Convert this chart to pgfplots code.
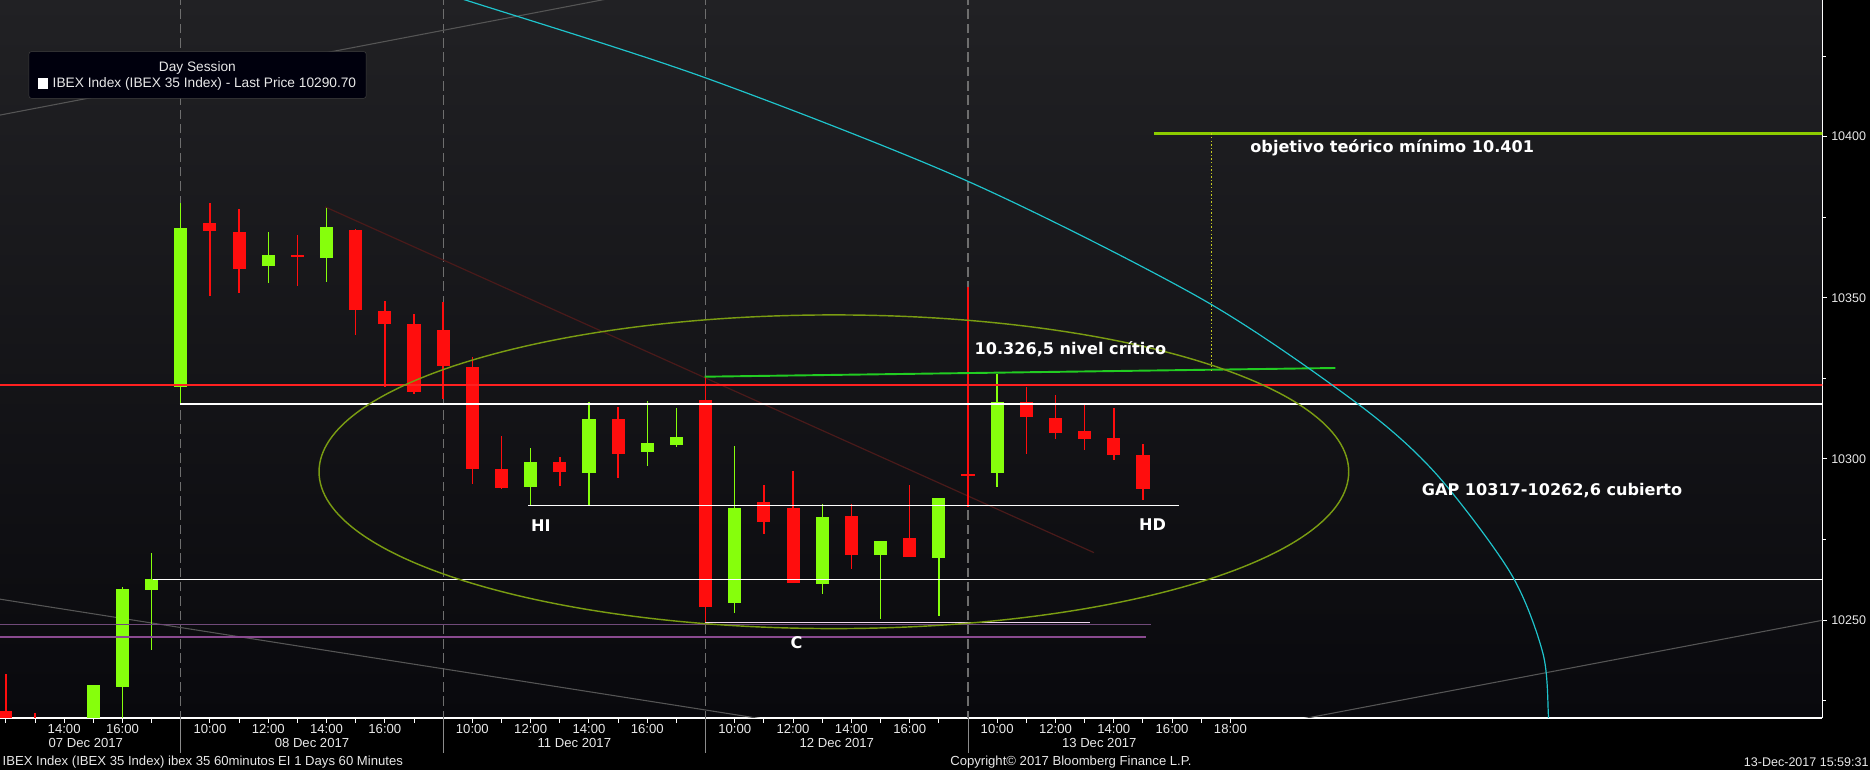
\documentclass[border=0pt]{standalone}
\usepackage{pgfplots}
\pgfplotsset{compat=1.18}
\usepackage{pgfplotstable}
\usepackage{fontspec}
\setmainfont{Liberation Sans}
\newfontfamily\annfont{DejaVu Sans}

\definecolor{bgtop}{HTML}{212124}
\definecolor{bgbot}{HTML}{09090D}
\definecolor{upc}{HTML}{86FF0C}
\definecolor{dnc}{HTML}{FF0D0D}
\definecolor{sepc}{HTML}{6E6E6E}
\definecolor{grayln}{HTML}{555555}
\definecolor{darkred}{HTML}{4A1A1A}
\definecolor{olivec}{HTML}{7A9C12}
\definecolor{cyanc}{HTML}{1FC4CC}
\definecolor{critc}{HTML}{22CC22}
\definecolor{topgreen}{HTML}{8CCC00}
\definecolor{dottc}{HTML}{C8CC22}
\definecolor{purpa}{HTML}{704A7A}
\definecolor{purpb}{HTML}{8A4A90}
\definecolor{clinec}{HTML}{EED6EE}
\definecolor{labelc}{HTML}{E8E8E8}
\definecolor{levred}{HTML}{FF2020}

% hourly candles, x = hour slot (0 = 07 Dec 12:00, 9 slots per day)
\pgfplotstableread{
x  o        h        l        c
3  10212.0  10229.9  10205.0  10229.9
4  10229.4  10260.2  10218.0  10259.6
5  10259.4  10270.8  10240.9  10262.6
6  10322.5  10379.6  10317.0  10371.7
9  10359.9  10370.5  10354.7  10363.3
11 10362.4  10377.9  10355.1  10371.9
18 10291.4  10303.5  10285.5  10299.1
20 10295.7  10317.6  10285.6  10312.4
22 10302.2  10317.9  10297.7  10304.9
23 10304.2  10315.8  10303.8  10306.9
25 10255.4  10304.2  10252.4  10284.9
28 10261.1  10286.0  10258.3  10282.0
30 10270.3  10274.6  10250.5  10274.6
32 10269.4  10288.1  10251.4  10288.1
34 10295.7  10326.5  10291.4  10317.9
}\upcandles

\pgfplotstableread{
x  o        h        l        c
0  10221.8  10233.2  10212.0  10216.0
1  10218.0  10221.3  10210.0  10214.0
7  10373.2  10379.6  10350.6  10370.6
8  10370.5  10377.5  10351.6  10359.1
10 10363.3  10369.5  10353.5  10362.9
12 10371.1  10371.4  10338.4  10346.2
13 10346.0  10349.1  10322.5  10342.0
14 10341.9  10345.0  10320.3  10320.8
15 10340.0  10348.7  10318.7  10328.9
16 10328.6  10331.5  10292.3  10296.7
17 10296.9  10307.4  10290.9  10290.9
19 10299.1  10300.7  10291.7  10296.0
21 10312.4  10316.2  10294.2  10301.6
24 10318.3  10325.3  10248.5  10254.2
26 10286.6  10291.9  10276.8  10280.5
27 10284.9  10296.2  10261.4  10261.4
29 10282.3  10286.0  10266.0  10270.3
31 10275.5  10291.9  10269.7  10269.7
33 10295.4  10353.3  10285.2  10295.0
35 10317.9  10322.4  10301.6  10313.1
36 10312.8  10319.8  10306.3  10308.1
37 10308.7  10317.3  10302.9  10306.3
38 10306.6  10315.8  10299.8  10301.3
39 10301.2  10304.8  10287.5  10290.7
}\dncandles

\tikzset{
  anntext/.style={text=white, font=\annfont\bfseries\fontsize{13.5}{16}\selectfont},
  smalltext/.style={text=labelc, font=\fontsize{11}{13}\selectfont},
}
\pgfplotsset{
  candle/.style 2 args={draw=none, mark=none, forget plot,
    error bars/.cd, y dir=both, y explicit, error mark=none,
    error bar style={draw=#1, line width=#2}},
}

\begin{document}
\begin{tikzpicture}
\useasboundingbox (0,0) rectangle (1568pt,646pt);
\fill[black] (0,0) rectangle (1568pt,646pt);

\begin{axis}[
  at={(0pt,44pt)}, anchor=south west,
  width=1528pt, height=602pt, scale only axis,
  xmin=-0.2, xmax=62.3, ymin=10219.6, ymax=10442.4,
  scaled x ticks=false, scaled y ticks=false,
  axis x line*=bottom, axis y line*=right,
  axis line style={draw=white, line width=1pt},
  tick align=outside,
  major tick length=4pt, minor tick length=3pt,
  tick style={draw=white, line width=0.8pt},
  xtick={0,...,42},
  xticklabels={{},{},14:00,{},16:00,{},{},10:00,{},12:00,{},14:00,{},16:00,{},
               {},10:00,{},12:00,{},14:00,{},16:00,{},
               {},10:00,{},12:00,{},14:00,{},16:00,{},
               {},10:00,{},12:00,{},14:00,{},16:00,{},18:00},
  ytick={10250,10300,10350,10400},
  yticklabels={10250,10300,10350,10400},
  minor ytick={10225,10275,10325,10375,10425},
  xticklabel style={font=\fontsize{11}{12}\selectfont, text=labelc, yshift=2.5pt},
  yticklabel style={font=\fontsize{10.5}{12}\selectfont, text=labelc},
  axis background/.style={top color=bgtop, bottom color=bgbot},
]

% day separators
\foreach \s in {6,15,24,33}{
  \edef\tmp{\noexpand\addplot[sepc, line width=0.9pt, dash pattern=on 8pt off 4pt] coordinates {(\s,10210) (\s,10450)};}
  \tmp
}

% trend lines
\addplot[grayln, line width=0.9pt] coordinates {(-1,10405.3) (22,10445.1)};
\addplot[grayln, line width=0.9pt] coordinates {(-1,10257.6) (27,10217.8)};
\addplot[grayln, line width=0.9pt] coordinates {(44,10218.5) (63,10251.1)};
\addplot[darkred, line width=1pt] coordinates {(10.95,10378.2) (37.32,10270.9)};

% candles: wicks then bodies
\addplot[candle={upc}{1.2pt}]
  table[x=x, y expr={(\thisrow{h}+\thisrow{l})/2}, y error expr={(\thisrow{h}-\thisrow{l})/2}] {\upcandles};
\addplot[candle={dnc}{1.2pt}]
  table[x=x, y expr={(\thisrow{h}+\thisrow{l})/2}, y error expr={(\thisrow{h}-\thisrow{l})/2}] {\dncandles};
\addplot[candle={upc}{11pt}]
  table[x=x, y expr={(\thisrow{o}+\thisrow{c})/2}, y error expr={max(abs(\thisrow{c}-\thisrow{o})/2,0.3)}] {\upcandles};
\addplot[candle={dnc}{11pt}]
  table[x=x, y expr={(\thisrow{o}+\thisrow{c})/2}, y error expr={max(abs(\thisrow{c}-\thisrow{o})/2,0.3)}] {\dncandles};

% levels
\addplot[levred, line width=1.6pt] coordinates {(-1,10322.8) (63,10322.8)};
\addplot[white, line width=1pt] coordinates {(5.97,10317) (63,10317)};
\addplot[white, line width=1pt] coordinates {(5.06,10262.6) (63,10262.6)};
\addplot[white, line width=1pt] coordinates {(17.92,10285.5) (40.23,10285.5)};
\addplot[purpa, line width=1.3pt] coordinates {(-1,10248.6) (39.27,10248.6)};
\addplot[purpb, line width=1.3pt] coordinates {(-1,10244.7) (39.1,10244.7)};
\addplot[clinec, line width=1pt] coordinates {(23.97,10249.2) (37.2,10249.2)};
\addplot[critc, line width=1.6pt] coordinates {(23.97,10325.5) (45.6,10328.2)};
\addplot[topgreen, line width=2pt] coordinates {(39.39,10401) (63,10401)};
\addplot[dottc, line width=0.8pt, dash pattern=on 1.2pt off 1.8pt] coordinates {(41.34,10401) (41.34,10327)};

% arc and ellipse
\addplot[cyanc, line width=1pt, smooth] coordinates {
  (14.53,10445.7) (15.76,10442.4) (23.98,10418.3) (33.03,10386.0) (41.08,10349.3)
  (46.35,10317.2) (49.04,10295.5) (51.62,10264.4) (52.72,10239.6) (52.91,10220.0)
  (52.94,10213.7)};
\draw[olivec, line width=1.2pt] (axis cs:28.40,10296) ellipse [x radius=431.7pt, y radius=131.5pt];

% annotations
\node[anntext] at (axis cs:47.55,10396.5) {objetivo teórico mínimo 10.401};
\node[anntext] at (axis cs:36.51,10333.9) {10.326,5 nivel crítico};
\node[anntext] at (axis cs:53.03,10290.3) {GAP 10317-10262,6 cubierto};
\node[anntext] at (axis cs:18.35,10279.2) {HI};
\node[anntext] at (axis cs:39.33,10279.6) {HD};
\node[anntext] at (axis cs:27.12,10243.0) {C};
\end{axis}

% legend box
\draw[fill=black!95!blue, draw=black!75!white, rounded corners=2pt] (24.3pt,563.6pt) rectangle (307pt,602.7pt);
\node[text=labelc, font=\fontsize{11.5}{13}\selectfont] at (165.5pt,588.7pt) {Day Session};
\fill[white] (32.2pt,571.4pt) rectangle (40.4pt,581pt);
\node[text=labelc, font=\fontsize{11.5}{13}\selectfont, anchor=west, inner sep=0pt] at (44pt,575.3pt) {IBEX Index (IBEX 35 Index) - Last Price 10290.70};

% date row
\foreach \s in {151.6,371.7,591.7,811.7}{
  \draw[sepc!80!white, line width=0.8pt] (\s pt,44pt) -- (\s pt,15pt);
}
\node[smalltext] at (72pt,22.7pt) {07 Dec 2017};
\node[smalltext] at (261.6pt,22.7pt) {08 Dec 2017};
\node[smalltext] at (481.6pt,22.7pt) {11 Dec 2017};
\node[smalltext] at (701.7pt,22.7pt) {12 Dec 2017};
\node[smalltext] at (921.7pt,22.7pt) {13 Dec 2017};

% footer
\node[smalltext, anchor=west, inner sep=0pt] at (2pt,7.3pt) {IBEX Index (IBEX 35 Index) ibex 35 60minutos EI 1 Days 60 Minutes};
\node[smalltext] at (898pt,7.3pt) {Copyright© 2017 Bloomberg Finance L.P.};
\node[smalltext, font=\fontsize{10.5}{12}\selectfont, anchor=east, inner sep=0pt] at (1567pt,7.3pt) {13-Dec-2017 15:59:31};
\end{tikzpicture}
\end{document}
